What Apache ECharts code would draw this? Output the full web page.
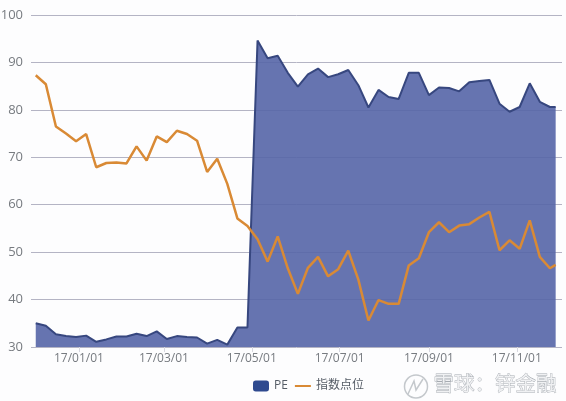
<!DOCTYPE html>
<html>
<head>
<meta charset="utf-8">
<style>html,body{margin:0;padding:0;background:#fdfdfe}#c{width:566px;height:401px}</style>
<script src="https://cdn.jsdelivr.net/npm/echarts@6/dist/echarts.min.js"></script>
</head>
<body>
<div id="c"></div>
<script>
const dates = ['2016-12-02','2016-12-09','2016-12-16','2016-12-23','2016-12-30','2017-01-06','2017-01-13','2017-01-20','2017-01-27','2017-02-03','2017-02-10','2017-02-17','2017-02-24','2017-03-03','2017-03-10','2017-03-17','2017-03-24','2017-03-31','2017-04-07','2017-04-14','2017-04-21','2017-04-28','2017-05-05','2017-05-12','2017-05-19','2017-05-26','2017-06-02','2017-06-09','2017-06-16','2017-06-23','2017-06-30','2017-07-07','2017-07-14','2017-07-21','2017-07-28','2017-08-04','2017-08-11','2017-08-18','2017-08-25','2017-09-01','2017-09-08','2017-09-15','2017-09-22','2017-09-29','2017-10-06','2017-10-13','2017-10-20','2017-10-27','2017-11-03','2017-11-10','2017-11-17','2017-11-24','2017-11-28'];
const pe = [35.0,34.5,32.7,32.3,32.1,32.4,31.1,31.6,32.2,32.2,32.8,32.3,33.3,31.7,32.3,32.1,32.0,30.7,31.5,30.5,34.1,34.1,94.6,90.9,91.4,87.8,84.9,87.5,88.7,86.9,87.5,88.4,85.2,80.5,84.2,82.7,82.3,87.8,87.8,83.1,84.7,84.6,83.9,85.8,86.1,86.3,81.3,79.6,80.6,85.6,81.7,80.6,80.6];
const indexPoints = [87.3,85.4,76.5,75.0,73.4,74.9,67.9,68.8,68.9,68.7,72.3,69.3,74.4,73.2,75.6,74.9,73.5,66.9,69.7,64.4,57.1,55.5,52.7,48.0,53.3,46.6,41.2,46.7,49.0,44.9,46.4,50.3,44.2,35.6,39.9,39.1,39.1,47.2,48.7,54.2,56.3,54.2,55.6,55.9,57.3,58.5,50.4,52.5,50.7,56.7,49.0,46.6,47.3];
const tickDates = ['2017-01-01','2017-03-01','2017-05-01','2017-07-01','2017-09-01','2017-11-01'];
const seriesNames = ['PE','指数点位'];
const watermark = '雪球：锌金融';

const DAY = 86400000;
const toDay = s => new Date(s + 'T00:00:00Z').getTime() / DAY;
const pad = n => String(n).padStart(2, '0');
const fmt = v => { const d = new Date(v * DAY); return pad(d.getUTCFullYear() % 100) + '/' + pad(d.getUTCMonth() + 1) + '/' + pad(d.getUTCDate()); };
const font = '"Open Sans","Liberation Sans",sans-serif';
const chart = echarts.init(document.getElementById('c'), null, {renderer: 'canvas'});
chart.setOption({
  animation: false,
  backgroundColor: '#fdfdfe',
  grid: {left: 31, right: 4, top: 15, bottom: 54, outerBoundsMode: 'none'},
  legend: {
    data: [
      {name: seriesNames[0], icon: 'roundRect'},
      {name: seriesNames[1], icon: 'path://M0 0H16V2H0Z', itemStyle: {color: '#d98a35'}}
    ],
    left: 248, top: 375, itemWidth: 16, itemHeight: 11, itemGap: 7,
    textStyle: {color: '#555c66', fontSize: 12, fontFamily: '"Open Sans","Noto Sans CJK SC",sans-serif'}
  },
  xAxis: {
    type: 'value',
    min: toDay('2017-01-01') - 33.3,
    max: toDay('2017-01-01') + 335.4,
    splitLine: {show: false},
    axisLine: {show: false},
    axisTick: {show: true, length: 5, customValues: tickDates.map(toDay), lineStyle: {color: '#d8d8e0'}},
    axisLabel: {
      customValues: tickDates.map(toDay), formatter: v => fmt(v),
      color: '#777b80', fontSize: 12, fontFamily: font, margin: 6
    }
  },
  yAxis: {
    type: 'value', min: 30, max: 100, interval: 10,
    axisLine: {show: false}, axisTick: {show: false},
    axisLabel: {color: '#777b80', fontSize: 13, fontFamily: font, margin: 8},
    splitLine: {lineStyle: {color: '#b4b4c4', width: 1}}
  },
  series: [
    {
      name: seriesNames[0], type: 'line', showSymbol: false, symbol: 'none', z: 2,
      data: dates.map((d, i) => [toDay(d), pe[i]]),
      itemStyle: {color: '#2f4a8f'},
      lineStyle: {color: '#37477f', width: 2},
      areaStyle: {color: '#5565a7', opacity: 0.9}
    },
    {
      name: seriesNames[1], type: 'line', showSymbol: false, symbol: 'none', z: 3,
      data: dates.map((d, i) => [toDay(d), indexPoints[i]]),
      itemStyle: {color: '#d98a35'},
      lineStyle: {color: '#d98a35', width: 2.5}
    }
  ],
  graphic: [
    {type: 'circle', shape: {cx: 416, cy: 386.5, r: 11.5}, style: {fill: 'transparent', stroke: '#c4c8cc', lineWidth: 1.5}},
    {type: 'polyline', shape: {points: [[408, 394], [414, 381], [416, 390], [423, 379]]}, style: {fill: 'none', stroke: '#c4c8cc', lineWidth: 1.5}},
    {type: 'text', left: 433, top: 373, style: {text: watermark, fill: '#f0f1f3', stroke: '#a6abb1', lineWidth: 0.8, font: '20.5px "Noto Sans CJK SC"'}}
  ]
});
</script>
</body>
</html>
